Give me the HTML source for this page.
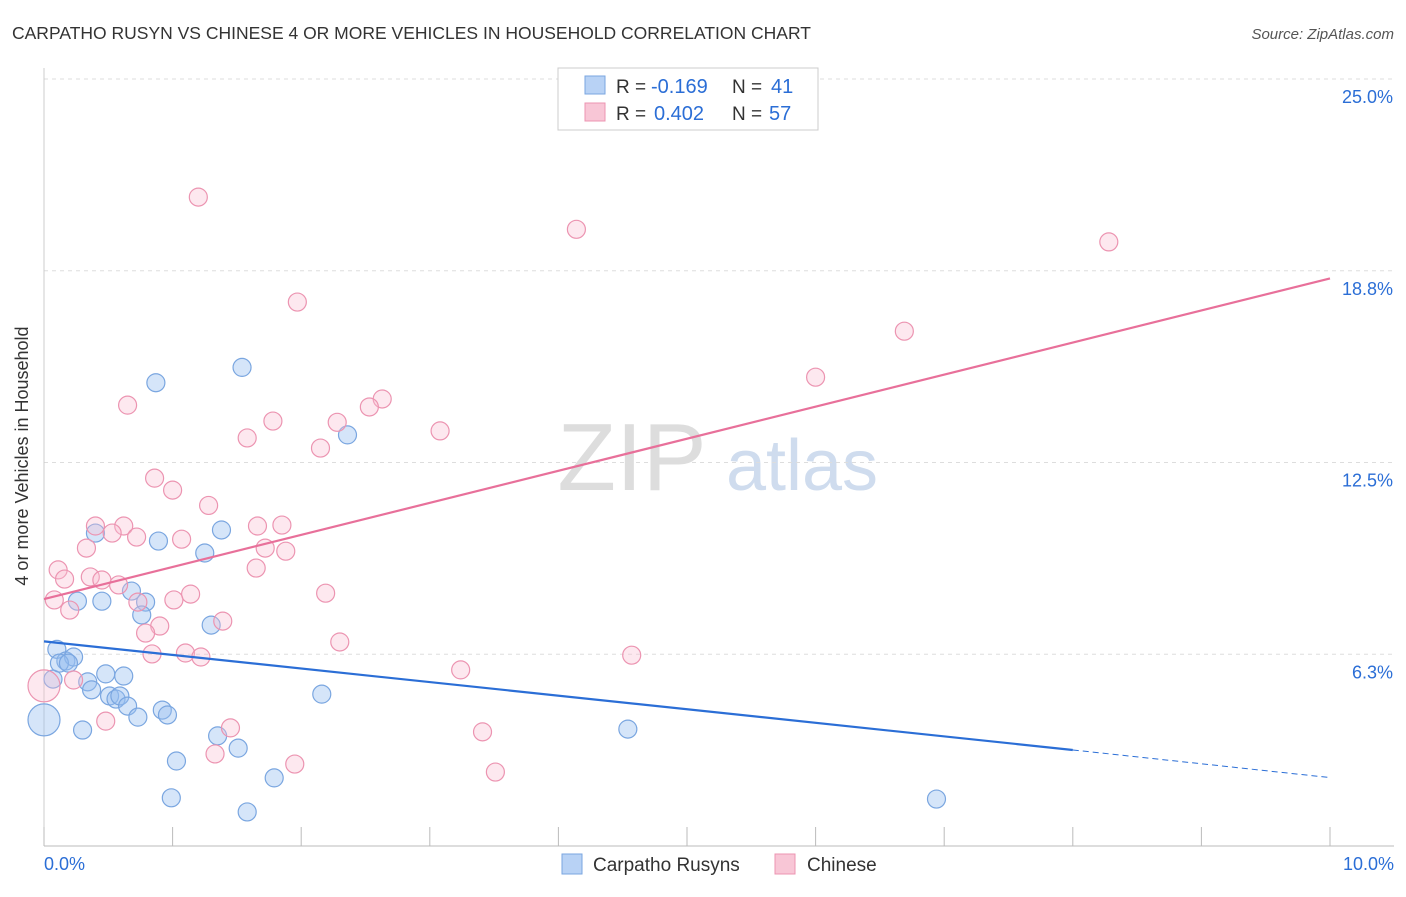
<!DOCTYPE html>
<html><head><meta charset="utf-8">
<style>
body{margin:0;background:#fff;font-family:"Liberation Sans",sans-serif;}
svg text{font-family:"Liberation Sans",sans-serif;}
</style></head>
<body>
<svg width="1406" height="892" viewBox="0 0 1406 892">
<text x="12" y="39" font-size="17.5" fill="#333">CARPATHO RUSYN VS CHINESE 4 OR MORE VEHICLES IN HOUSEHOLD CORRELATION CHART</text>
<text x="1394" y="39" font-size="15" fill="#555" font-style="italic" text-anchor="end">Source: ZipAtlas.com</text>
<g>
<text x="632" y="490" font-size="96" fill="#ddd" font-family="Liberation Serif" text-anchor="middle">ZIP</text>
<text x="802" y="490" font-size="72" fill="#cfdcee" text-anchor="middle">atlas</text>
</g>
<g id="grid"></g>
<g id="axes"></g>
<g id="marks"></g>
<text x="28" y="456" font-size="18" fill="#333" transform="rotate(-90 28 456)" text-anchor="middle">4 or more Vehicles in Household</text>
<g>
<rect x="558" y="68" width="260" height="62" fill="#fff" stroke="#ccc"/>
<rect x="585" y="76" width="20" height="18" fill="#b8d2f5" stroke="#7aa6e0"/>
<rect x="585" y="103" width="20" height="18" fill="#f8c6d6" stroke="#ec94b1"/>
<text x="616" y="93" font-size="19" fill="#333">R =</text>
<text x="651" y="93" font-size="20" fill="#2b6ed6">-0.169</text>
<text x="732" y="93" font-size="19" fill="#333">N =</text>
<text x="771" y="93" font-size="20" fill="#2b6ed6">41</text>
<text x="616" y="120" font-size="19" fill="#333">R =</text>
<text x="654" y="120" font-size="20" fill="#2b6ed6">0.402</text>
<text x="732" y="120" font-size="19" fill="#333">N =</text>
<text x="769" y="120" font-size="20" fill="#2b6ed6">57</text>
</g>
<g>
<rect x="562" y="854" width="20" height="20" fill="#b8d2f5" stroke="#7aa6e0"/>
<text x="593" y="871" font-size="19" fill="#333">Carpatho Rusyns</text>
<rect x="775" y="854" width="20" height="20" fill="#f8c6d6" stroke="#ec94b1"/>
<text x="807" y="871" font-size="19" fill="#333">Chinese</text>
</g>
</svg>
<script>
const yTicks=[6.25,12.5,18.75,25];
const yTickLabels=["6.3%","12.5%","18.8%","25.0%"];
const xTickLabels=["0.0%","10.0%"];
const blueX=[0.87,1.54,2.36,0.40,0.89,1.38,1.25,0.26,0.45,0.68,0.79,0.76,1.30,0.10,0.17,0.23,0.07,0.34,0.48,0.62,0.37,0.51,0.56,0.59,0.65,0.73,0.92,0.96,0.30,0.0,2.16,4.54,1.35,1.51,1.03,1.79,0.99,1.58,6.94,0.12,0.19];
const blueY=[15.1,15.6,13.4,10.2,9.94,10.3,9.55,7.98,7.98,8.31,7.95,7.53,7.20,6.41,6.03,6.16,5.44,5.35,5.61,5.54,5.09,4.89,4.79,4.89,4.56,4.20,4.43,4.27,3.78,4.11,4.95,3.81,3.59,3.19,2.77,2.22,1.57,1.11,1.53,5.96,5.96];
const blueR=[9,9,9,9,9,9,9,9,9,9,9,9,9,9,9,9,9,9,9,9,9,9,9,9,9,9,9,9,9,16,9,9,9,9,9,9,9,9,9,9,9];
const pinkX=[1.20,4.14,8.28,1.97,6.69,6.00,0.65,2.63,2.53,1.78,2.28,1.58,3.08,2.15,0.86,1.00,1.28,0.40,0.62,0.53,0.72,1.66,1.85,1.07,0.33,1.72,1.88,0.11,1.65,0.16,0.36,0.45,0.58,1.14,2.19,0.08,0.73,1.01,0.20,1.39,0.90,0.79,2.30,0.84,1.10,1.22,4.57,3.24,0.23,0.0,0.48,1.45,3.41,1.33,1.95,3.51];
const pinkY=[21.15,20.1,19.69,17.73,16.78,15.28,14.37,14.57,14.31,13.85,13.81,13.30,13.53,12.97,11.99,11.6,11.1,10.43,10.43,10.2,10.07,10.43,10.46,10.0,9.71,9.71,9.61,9.0,9.06,8.70,8.77,8.67,8.51,8.21,8.24,8.02,7.95,8.02,7.69,7.33,7.17,6.94,6.65,6.26,6.29,6.16,6.22,5.74,5.41,5.22,4.07,3.85,3.72,3.00,2.67,2.41];
const pinkR=[9,9,9,9,9,9,9,9,9,9,9,9,9,9,9,9,9,9,9,9,9,9,9,9,9,9,9,9,9,9,9,9,9,9,9,9,9,9,9,9,9,9,9,9,9,9,9,9,9,16,9,9,9,9,9,9];
const blueLine=[6.67,3.13,2.23];
const pinkLine=[8.05,18.5];
const NS="http://www.w3.org/2000/svg";
const X=v=>44+v*128.6, Y=v=>846-v*30.68;
function mk(t,a,p){const e=document.createElementNS(NS,t);for(const k in a)e.setAttribute(k,a[k]);p.appendChild(e);return e;}
const grid=document.getElementById('grid'),axes=document.getElementById('axes'),marks=document.getElementById('marks');
yTicks.forEach((t,i)=>{
 const l=mk('line',{x1:44,x2:1394,y1:Y(t),y2:Y(t),stroke:'#ddd','stroke-dasharray':'4,4'},grid);
 
 
 const tx=mk('text',{x:1393,y:Y(t)+24,'font-size':18,fill:'#2b6ed6','text-anchor':'end'},axes);
 tx.textContent=yTickLabels[i];
 
 
});
const ax=mk('line',{x1:44,x2:1394,y1:846,y2:846,stroke:'#bbb'},axes);


const ay=mk('line',{x1:44,x2:44,y1:68,y2:846,stroke:'#ccc'},axes);


for(let i=0;i<=10;i++){const t=mk('line',{x1:X(i),x2:X(i),y1:827,y2:846,stroke:'#bbb'},axes);
 
 }
[[0,'start',44],[10,'end',1394]].forEach((d,i)=>{const t=mk('text',{x:d[2],y:870,'font-size':18,fill:'#2b6ed6','text-anchor':d[1]},axes);t.textContent=xTickLabels[i];
 
 });
blueX.forEach((x,i)=>{const c=mk('circle',{cx:X(x),cy:Y(blueY[i]),r:blueR[i],fill:'rgba(150,190,240,0.4)',stroke:'#7aa6e0','stroke-width':1.2},marks);
 
 });
pinkX.forEach((x,i)=>{const c=mk('circle',{cx:X(x),cy:Y(pinkY[i]),r:pinkR[i],fill:'rgba(248,190,210,0.35)',stroke:'#ec94b1','stroke-width':1.2},marks);
 
 });
const bl=mk('line',{x1:X(0),y1:Y(blueLine[0]),x2:X(8),y2:Y(blueLine[1]),stroke:'#2b6ed6','stroke-width':2.2},marks);


const bd=mk('line',{x1:X(8),y1:Y(blueLine[1]),x2:X(10),y2:Y(blueLine[2]),stroke:'#2b6ed6','stroke-width':1,'stroke-dasharray':'6,4'},marks);


const pl=mk('line',{x1:X(0),y1:Y(pinkLine[0]),x2:X(10),y2:Y(pinkLine[1]),stroke:'#e8709a','stroke-width':2.2},marks);


</script>
</body></html>
